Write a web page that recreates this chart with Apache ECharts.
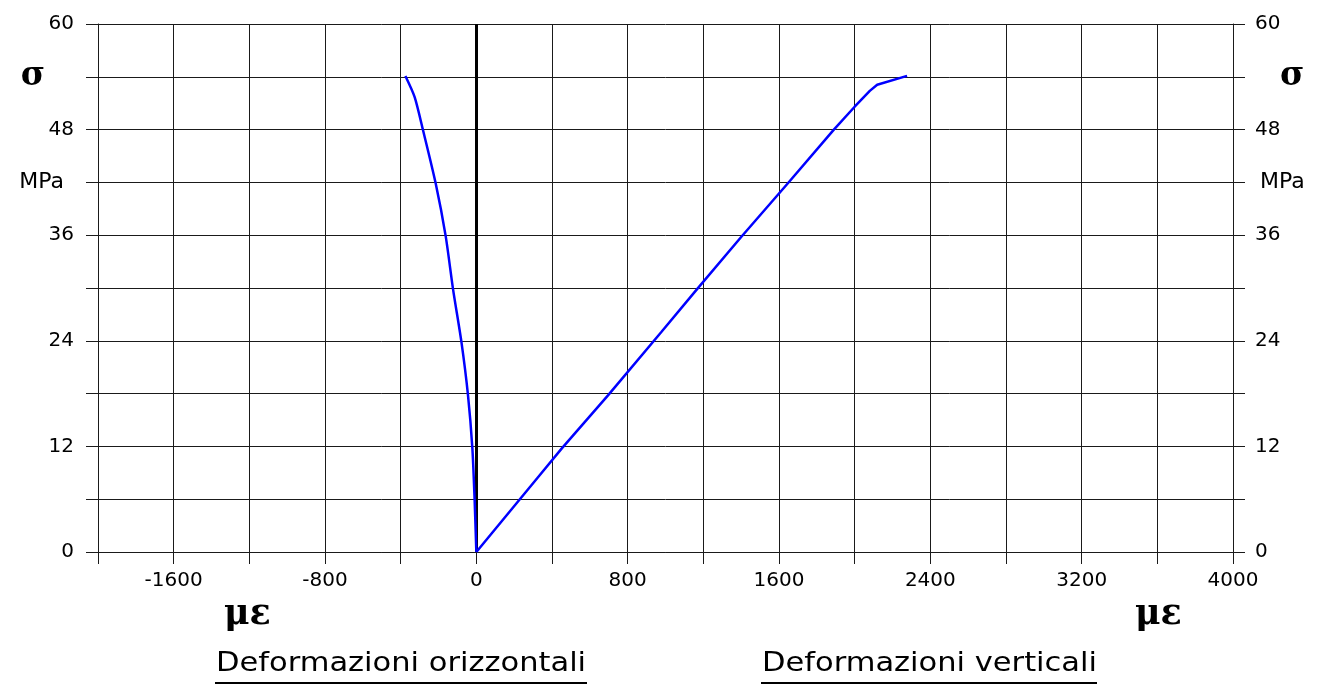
<!DOCTYPE html>
<html>
<head>
<meta charset="utf-8">
<script src="https://cdn.jsdelivr.net/npm/echarts@6/dist/echarts.min.js"></script>
<style>html,body{margin:0;padding:0;background:#fff}#c{width:1331px;height:685px}</style>
</head>
<body>
<div id="c"></div>
<script>
// Horizontal strain (µε) vs stress (MPa)
const horizStrain = [0, -9, -21, -44, -79, -123, -162, -215, -282, -326, -375];
const horizStress = [0, 5.9, 11.8, 17.8, 23.9, 29.85, 35.9, 41.9, 47.95, 51.7, 54.1];
// Vertical strain (µε) vs stress (MPa)
const vertStrain = [0, 326, 453, 696, 978, 1168, 1400, 1647, 1890, 2000, 2080, 2119, 2277];
const vertStress = [0, 8.5, 11.8, 17.8, 25.0, 29.9, 35.8, 41.9, 48.0, 50.6, 52.4, 53.1, 54.1];
// axis ticks
const xMin = -2000, xMax = 4000, xStep = 400, xLabelStep = 800;
const yMin = 0, yMax = 60, yStep = 6;
const yLabelsNum = [0, 12, 24, 36, 48, 60];
const ySymbolValue = 54, yUnitValue = 42;
const ySymbol = 'σ', yUnit = 'MPa';
const xUnit = 'με';
const titleLeft = 'Deformazioni orizzontali';
const titleRight = 'Deformazioni verticali';

const pairs = (xs, ys) => xs.map((x, i) => [x, ys[i]]);

const gridLine = { show: true, lineStyle: { color: '#1a1a1a', width: 1 } };
const numFont = { fontFamily: 'DejaVu Sans', fontSize: 20, color: '#000' };

function yFormatter(side) {
  return function (v) {
    if (yLabelsNum.indexOf(v) >= 0) return '{n|' + v + '}';
    if (v === ySymbolValue) return '{s|' + ySymbol + '}';
    if (v === yUnitValue) return '{u|' + yUnit + '}';
    return '';
  };
}
function yRich(side) {
  const left = side === 'left';
  return {
    n: { fontFamily: 'DejaVu Sans', fontSize: 20, color: '#000' },
    s: { fontFamily: 'DejaVu Serif', fontWeight: 'bold', fontSize: 33, color: '#000',
         padding: left ? [0, 29, 0, 0] : [0, 0, 0, 25] },
    u: { fontFamily: 'DejaVu Sans', fontSize: 22, color: '#000',
         padding: left ? [0, 10, 0, 0] : [0, 0, 0, 5] }
  };
}
function yAxis(side) {
  return {
    type: 'value', position: side, min: yMin, max: yMax, interval: yStep,
    axisLine: { show: true, onZero: false, lineStyle: { color: '#1a1a1a', width: 1 } },
    axisTick: { show: true, length: 12, inside: false, lineStyle: { color: '#1a1a1a' } },
    axisLabel: { show: true, margin: side === 'left' ? 24 : 22, formatter: yFormatter(side), rich: yRich(side),
                 showMinLabel: true, showMaxLabel: true },
    splitLine: side === 'left' ? gridLine : { show: false }
  };
}

const chart = echarts.init(document.getElementById('c'), null, { renderer: 'canvas' });
chart.setOption({
  backgroundColor: '#fff',
  animation: false,
  grid: { left: 98, right: 98, top: 24, bottom: 133, containLabel: false },
  xAxis: {
    type: 'value', min: xMin, max: xMax, interval: xStep,
    axisLine: { show: true, onZero: false, lineStyle: { color: '#1a1a1a', width: 1 } },
    axisTick: { show: true, length: 12, lineStyle: { color: '#1a1a1a' } },
    axisLabel: Object.assign({ margin: 19, showMinLabel: true, showMaxLabel: true,
      formatter: v => (v % xLabelStep === 0 ? String(v) : '') }, numFont),
    splitLine: gridLine
  },
  yAxis: [yAxis('left'), yAxis('right')],
  series: [
    {
      type: 'line', data: pairs(horizStrain, horizStress), showSymbol: false, symbol: 'none',
      lineStyle: { color: '#0000ff', width: 2.5 }, z: 5, smooth: 0.25,
      markLine: {
        silent: true, symbol: 'none', label: { show: false },
        lineStyle: { color: '#000', width: 3, type: 'solid' },
        data: [{ xAxis: 0 }], z: 3
      }
    },
    {
      type: 'line', data: pairs(vertStrain, vertStress), showSymbol: false, symbol: 'none',
      lineStyle: { color: '#0000ff', width: 2.5 }, z: 5
    }
  ],
  graphic: [
    { type: 'text', left: 224, top: 597, style: { text: xUnit, font: 'bold 35px "DejaVu Serif"', fill: '#000' } },
    { type: 'text', left: 1135, top: 597, style: { text: xUnit, font: 'bold 35px "DejaVu Serif"', fill: '#000' } },
    { type: 'text', x: 216, y: 650, scaleX: 1.13, style: { text: titleLeft, font: '27px "DejaVu Sans"', fill: '#000' } },
    { type: 'text', x: 762, y: 650, scaleX: 1.13, style: { text: titleRight, font: '27px "DejaVu Sans"', fill: '#000' } },
    { type: 'line', shape: { x1: 215, y1: 683, x2: 587, y2: 683 }, style: { stroke: '#000', lineWidth: 2 } },
    { type: 'line', shape: { x1: 761, y1: 683, x2: 1097, y2: 683 }, style: { stroke: '#000', lineWidth: 2 } }
  ]
});
</script>
</body>
</html>
